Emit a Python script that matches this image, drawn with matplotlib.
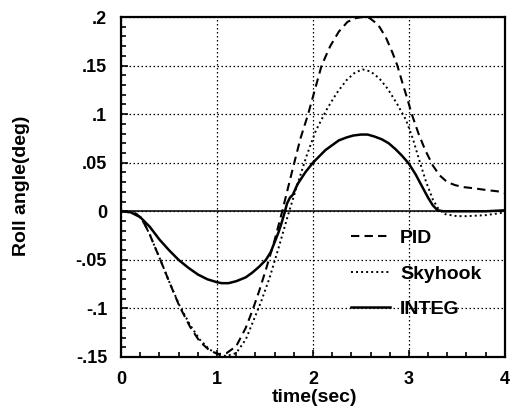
import matplotlib
matplotlib.use('Agg')
import matplotlib.pyplot as plt
from matplotlib.ticker import MultipleLocator, FuncFormatter

# values
t_pid = [0, 0.1, 0.15, 0.2, 0.25, 0.3, 0.35, 0.41, 0.5, 0.61, 0.72, 0.82, 0.92, 1.01,
         1.1, 1.2, 1.3, 1.37, 1.44, 1.51, 1.6, 1.68, 1.78, 1.87, 1.95, 2.02, 2.09,
         2.18, 2.27, 2.36, 2.45, 2.52, 2.59, 2.68, 2.76, 2.83, 2.88, 2.93, 2.98, 3.03,
         3.1, 3.17, 3.25, 3.32, 3.4, 3.48, 3.56, 3.65, 3.8, 3.97, 4.0]
pid = [0, -0.001, -0.002, -0.006, -0.014, -0.024, -0.036, -0.050, -0.072, -0.098,
       -0.119, -0.134, -0.143, -0.147, -0.146, -0.139, -0.120, -0.102, -0.082,
       -0.060, -0.030, 0.0, 0.040, 0.075, 0.100, 0.125, 0.150, 0.170, 0.185, 0.195,
       0.199, 0.200, 0.199, 0.192, 0.179, 0.163, 0.150, 0.133, 0.117, 0.100, 0.080,
       0.063, 0.047, 0.037, 0.030, 0.027, 0.025, 0.024, 0.022, 0.020, 0.019]

t_sky = [0, 0.1, 0.15, 0.2, 0.25, 0.3, 0.35, 0.41, 0.5, 0.61, 0.72, 0.82, 0.92, 1.02,
         1.1, 1.2, 1.3, 1.37, 1.46, 1.55, 1.65, 1.74, 1.83, 1.93, 2.03, 2.15, 2.25,
         2.35, 2.44, 2.52, 2.6, 2.69, 2.78, 2.88, 2.97, 3.04, 3.11, 3.18, 3.25, 3.31,
         3.38, 3.5, 3.6, 3.8, 3.94, 4.0]
sky = [0, -0.001, -0.002, -0.006, -0.014, -0.024, -0.036, -0.050, -0.072, -0.097,
       -0.117, -0.132, -0.142, -0.148, -0.149, -0.146, -0.132, -0.115, -0.093,
       -0.068, -0.035, -0.004, 0.025, 0.056, 0.083, 0.106, 0.122, 0.135, 0.143,
       0.146, 0.144, 0.137, 0.126, 0.110, 0.094, 0.075, 0.052, 0.030, 0.012, 0.002,
       -0.003, -0.005, -0.005, -0.004, -0.002, -0.001]

t_integ = [0, 0.1, 0.2, 0.3, 0.4, 0.5, 0.6, 0.7, 0.8, 0.9, 1.0, 1.05, 1.12, 1.2, 1.3,
           1.37, 1.44, 1.51, 1.56, 1.6, 1.64, 1.67, 1.70, 1.73, 1.76, 1.79, 1.84, 1.92,
           2.0, 2.07, 2.13, 2.2, 2.27, 2.35, 2.42, 2.5, 2.57, 2.64, 2.72, 2.79, 2.86,
           2.93, 3.0, 3.07, 3.14, 3.2, 3.25, 3.3, 3.36, 3.6, 3.8, 4.0]
integ = [0, -0.001, -0.006, -0.016, -0.029, -0.040, -0.050, -0.058, -0.065, -0.070,
         -0.073, -0.074, -0.074, -0.072, -0.068, -0.063, -0.057, -0.050, -0.042,
         -0.032, -0.022, -0.013, -0.003, 0.008, 0.014, 0.017, 0.028, 0.040, 0.050,
         0.057, 0.063, 0.068, 0.073, 0.076, 0.078, 0.079, 0.079, 0.077, 0.074, 0.070,
         0.064, 0.057, 0.049, 0.038, 0.025, 0.014, 0.006, 0.001, 0.0, 0.0, 0.0, 0.001]

labels = ['PID', 'Skyhook', 'INTEG']

plt.rcParams['font.family'] = ['Liberation Sans', 'DejaVu Sans']
plt.rcParams['font.weight'] = 'bold'

fig = plt.figure(figsize=(5.11, 4.13), dpi=100)
ax = fig.add_axes([0.2368, 0.1356, 0.7512, 0.8232])

ax.plot(t_pid, pid, color='black', lw=1.5, ls=(0, (4, 2.5)), label=labels[0])
ax.plot(t_sky, sky, color='black', lw=1.4, ls=(0, (1, 1.6)), label=labels[1])
ax.plot(t_integ, integ, color='black', lw=1.8, ls='-', label=labels[2])
ax.axhline(0, color='black', lw=1.1, zorder=1)

ax.set_xlim(0, 4)
ax.set_ylim(-0.15, 0.2)
ax.xaxis.set_major_locator(MultipleLocator(1))
ax.xaxis.set_minor_locator(MultipleLocator(0.2))
ax.yaxis.set_major_locator(MultipleLocator(0.05))
ax.yaxis.set_minor_locator(MultipleLocator(0.01))


def fmt(v, pos):
    if abs(v) < 1e-9:
        return '0'
    s = ('%.2f' % v).rstrip('0')
    return s.replace('0.', '.')


ax.yaxis.set_major_formatter(FuncFormatter(fmt))
ax.xaxis.set_major_formatter(FuncFormatter(lambda v, p: '%d' % round(v)))
ax.tick_params(which='both', direction='in', top=False, right=False,
               labelsize=13, width=1.2)
ax.tick_params(which='major', length=5, pad=10)
ax.tick_params(which='minor', length=3.5)

ax.grid(True, which='major', color='black', ls=(0, (1.2, 2)), lw=0.9)
for s in ax.spines.values():
    s.set_linewidth(1.6)

ax.set_xlabel('time(sec)', fontsize=14, fontweight='bold')
ax.set_ylabel('Roll angle(deg)', fontsize=14, fontweight='bold')
ax.xaxis.set_label_coords(0.505, -0.094)
ax.yaxis.set_label_coords(-0.238, 0.503)

ax.legend(loc='upper left', bbox_to_anchor=(0.6, 0.375), frameon=False,
          fontsize=14, handlelength=2.0, handletextpad=0.5, labelspacing=0.92,
          borderpad=0, borderaxespad=0)

fig.savefig('out.png', dpi=100)
